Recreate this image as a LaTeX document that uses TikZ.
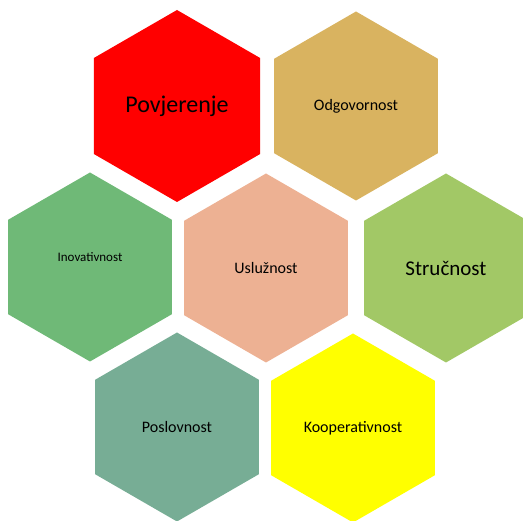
\documentclass[tikz,border=0pt]{standalone}
\usepackage{fontspec}
\setmainfont{Carlito}
\usetikzlibrary{shapes.geometric}
\definecolor{hexred}{HTML}{FF0000}
\definecolor{hexgold}{HTML}{D9B360}
\definecolor{hexgreen}{HTML}{6FB977}
\definecolor{hexpeach}{HTML}{EDB193}
\definecolor{hexlime}{HTML}{A2C866}
\definecolor{hexteal}{HTML}{77AD95}
\definecolor{hexyellow}{HTML}{FFFF00}
\begin{document}
\begin{tikzpicture}[x=1pt,y=-1pt,
  hexagon/.style={regular polygon,regular polygon sides=6,shape border rotate=30,
    minimum size=189pt,inner sep=0pt,outer sep=0pt,text=black}]
	% fix the page size
	\useasboundingbox (0,0) rectangle (523,521);
	% draw hexagons with their texts
	\foreach \name/\x/\y/\d/\col/\fs/\txt in {pov/177/106/192/hexred/24/Povjerenje,
	  odg/356/106/189/hexgold/16/Odgovornost,
	  usl/266/268/189/hexpeach/16/Uslužnost,
	  str/446/268/189/hexlime/21/Stručnost,
	  pos/177/427/189/hexteal/16/Poslovnost,
	  koo/353/428/189/hexyellow/16/Kooperativnost}
	\node[hexagon,minimum size=\d pt,fill=\col,font=\fontsize{\fs}{\fs}\selectfont] (\name) at (\x,\y) {\txt};
	% hexagon with raised text
	\node[hexagon,fill=hexgreen] (ino) at (90,267) {};
	\node[font=\fontsize{13}{13}\selectfont] (inotxt) at ([yshift=10pt]ino.center) {Inovativnost};
\end{tikzpicture}
\end{document}
